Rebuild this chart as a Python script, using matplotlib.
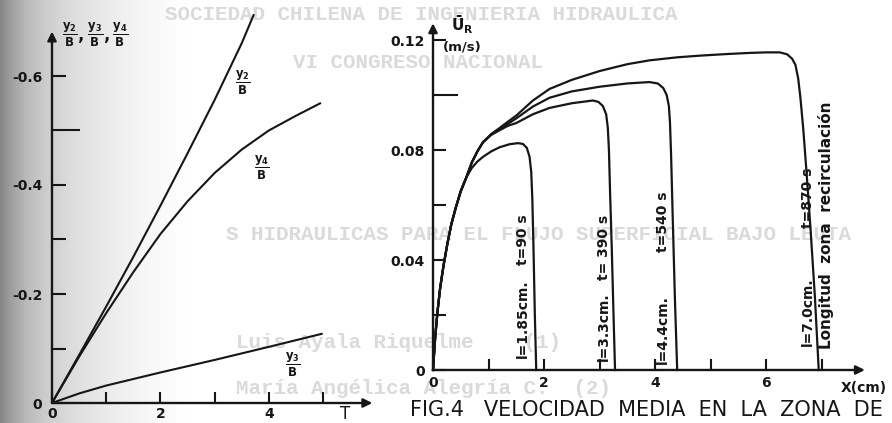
import numpy as np
import matplotlib
matplotlib.use("Agg")
import matplotlib.pyplot as plt

plt.rcParams['font.family'] = ['DejaVu Sans']
plt.rcParams['mathtext.fontset'] = 'dejavusans'
plt.rcParams['mathtext.default'] = 'bf'

W, H = 892, 423
INK = '#161616'

# ---- left panel: y/B against T ----
t_y2 = [0, 0.5, 1.0, 1.5, 2.0, 2.5, 3.0, 3.25, 3.5, 3.72]
v_y2 = [0, 0.088, 0.177, 0.268, 0.362, 0.458, 0.556, 0.608, 0.66, 0.712]
t_y4 = [0, 0.5, 1.0, 1.5, 2.0, 2.5, 3.0, 3.5, 4.0, 4.5, 4.95]
v_y4 = [0, 0.085, 0.165, 0.24, 0.31, 0.37, 0.422, 0.465, 0.5, 0.527, 0.55]
t_y3 = [0, 0.5, 1.0, 1.5, 2.0, 3.0, 4.0, 4.98]
v_y3 = [0, 0.0175, 0.032, 0.044, 0.056, 0.079, 0.103, 0.127]

# ---- right panel: mean velocity U_R (m/s) against X (cm) ----
x_rise = [0, 0.04, 0.08, 0.13, 0.19, 0.26, 0.33, 0.41, 0.5, 0.6]
u_rise = [0, 0.012, 0.021, 0.03, 0.038, 0.046, 0.053, 0.059, 0.065, 0.070]
x_c1 = [0.7, 0.8, 0.9, 1.05, 1.2, 1.38, 1.53, 1.62, 1.69, 1.74, 1.77, 1.79, 1.81, 1.835, 1.86]
u_c1 = [0.0735, 0.0758, 0.0775, 0.0795, 0.081, 0.0821, 0.0825, 0.0822, 0.0808, 0.0775, 0.072,
        0.062, 0.045, 0.02, 0]
x_c2 = [0.7, 0.8, 0.9, 1.05, 1.2, 1.35, 1.5, 1.8, 2.1, 2.5, 2.88, 2.98, 3.06, 3.12, 3.15, 3.17,
        3.19, 3.22, 3.25, 3.28]
u_c2 = [0.0755, 0.0795, 0.0828, 0.0855, 0.0872, 0.0888, 0.0898, 0.093, 0.0953, 0.097, 0.098,
        0.0975, 0.096, 0.093, 0.088, 0.08, 0.065, 0.045, 0.022, 0]
x_c3 = [0.7, 0.8, 0.9, 1.05, 1.2, 1.35, 1.5, 1.8, 2.1, 2.5, 3.0, 3.5, 3.9, 4.05, 4.15, 4.21, 4.25,
        4.27, 4.29, 4.32, 4.36, 4.4]
u_c3 = [0.0755, 0.0795, 0.0828, 0.0857, 0.0877, 0.0895, 0.0915, 0.0958, 0.099, 0.1013, 0.103,
        0.1042, 0.1047, 0.1042, 0.1025, 0.1, 0.096, 0.09, 0.078, 0.055, 0.025, 0]
x_c4 = [0.7, 0.8, 0.9, 1.05, 1.2, 1.35, 1.5, 1.8, 2.1, 2.5, 3.0, 3.5, 3.9, 4.4, 4.8, 5.3, 5.7,
        6.0, 6.25, 6.38, 6.47, 6.53, 6.58, 6.62, 6.67, 6.73, 6.8, 6.88, 6.95]
u_c4 = [0.0755, 0.0795, 0.0828, 0.0858, 0.088, 0.0903, 0.0925, 0.098, 0.1022, 0.1055, 0.1087,
        0.1112, 0.1126, 0.1137, 0.1143, 0.1149, 0.1153, 0.1155, 0.1155, 0.1148, 0.1132, 0.111,
        0.106, 0.099, 0.088, 0.072, 0.052, 0.027, 0]

# labels for each curve
len_labels = ['l=1.85cm.', 'l=3.3cm.', 'l=4.4cm.', 'l=7.0cm.']
time_labels = ['t=90 s', 't= 390 s', 't=540 s', 't=870 s']
label_x = [1.62, 3.08, 4.14, 6.76]
len_label_y = [0.0185, 0.0156, 0.0147, 0.0211]
time_label_y = [0.0473, 0.0447, 0.054, 0.0625]


def fx(px):
    return px / W


def fy(py):
    return 1 - py / H


fig = plt.figure(figsize=(W / 100, H / 100), dpi=100)

# scanned page: grey shading at the left margin
bg = fig.add_axes([0, 0, 1, 1], zorder=-10)
cols = np.arange(W)
shade = np.interp(cols, [0, 8, 25, 45, 70, 100, 140, 190], [0.52, 0.6, 0.72, 0.8, 0.86, 0.91, 0.96, 1.0])
bg.imshow(np.tile(shade, (2, 1)), cmap='gray', vmin=0, vmax=1, aspect='auto', extent=[0, 1, 0, 1])
bg.set_axis_off()

# faint bleed-through typewriter text
ghost = dict(color='#dadada', fontsize=15, family='Liberation Mono', fontweight='bold', zorder=-5, va='center')
fig.text(fx(165), fy(14), 'SOCIEDAD CHILENA DE INGENIERIA HIDRAULICA', **ghost)
fig.text(fx(293), fy(62), 'VI CONGRESO NACIONAL', **ghost)
fig.text(fx(851), fy(234), 'S HIDRAULICAS PARA EL FLUJO SUPERFICIAL BAJO LEUTA', ha='right', **ghost)
fig.text(fx(236), fy(342), 'Luis Ayala Riquelme    (1)', **ghost)
fig.text(fx(236), fy(388), 'María Angélica Alegría C.  (2)', **ghost)


def base_axes(ax, xmax, ymax):
    ax.set_facecolor('none')
    for s in ax.spines.values():
        s.set_visible(False)
    ax.set_xlim(0, xmax)
    ax.set_ylim(0, ymax)
    arrow = dict(arrowstyle='-|>', lw=1.7, color=INK, mutation_scale=13, shrinkA=0, shrinkB=0)
    ax.annotate('', xy=(xmax * 0.985, 0), xytext=(0, 0), arrowprops=arrow, annotation_clip=False)
    ax.annotate('', xy=(0, ymax * 0.985), xytext=(0, 0), arrowprops=arrow, annotation_clip=False)
    ax.tick_params(which='both', direction='in', color=INK, width=1.5, labelcolor=INK,
                   labelsize=10)
    for lab in ax.get_xticklabels() + ax.get_yticklabels():
        lab.set_fontweight('bold')


# ---- left axes ----
sx, sy = 54.2, 545.0
lx0, ly0 = 52, 403
xmax_l, ymax_l = 6.0, 0.692
ax1 = fig.add_axes([fx(lx0), fy(ly0), xmax_l * sx / W, ymax_l * sy / H])
ax1.set_xticks([0, 1, 2, 3, 4, 5])
ax1.set_xticklabels(['0', '', '2', '', '4', ''])
ax1.set_yticks([0, 0.1, 0.2, 0.3, 0.4, 0.6])
ax1.set_yticklabels(['0', '', '-0.2', '', '-0.4', '-0.6'])
ax1.set_yticks([0.5], minor=True)
base_axes(ax1, xmax_l, ymax_l)
ax1.tick_params(axis='y', which='major', length=10, pad=7)
ax1.tick_params(axis='y', which='minor', length=20)
ax1.tick_params(axis='x', length=8, pad=3)

for t, v in [(t_y2, v_y2), (t_y4, v_y4), (t_y3, v_y3)]:
    ax1.plot(t, v, color=INK, lw=1.5, clip_on=False, solid_capstyle='round',
             solid_joinstyle='round')

ax1.text(3.52, 0.587, r'$\frac{y_2}{B}$', fontsize=12, ha='center', va='center', color=INK)
ax1.text(3.87, 0.431, r'$\frac{y_4}{B}$', fontsize=12, ha='center', va='center', color=INK)
ax1.text(4.45, 0.07, r'$\frac{y_3}{B}$', fontsize=12, ha='center', va='center', color=INK)
ax1.text(5.4, -0.004, 'T', fontsize=12, ha='center', va='top', color=INK)
fig.text(fx(62), fy(35), r'$\frac{y_2}{B},\frac{y_3}{B},\frac{y_4}{B}$', fontsize=12,
         ha='left', va='center', color=INK)

# ---- right axes ----
rx, ry = 55.5, 2750.0
rx0, ry0 = 433, 370
xmax_r, ymax_r = 7.9, 0.128
ax2 = fig.add_axes([fx(rx0), fy(ry0), xmax_r * rx / W, ymax_r * ry / H])
ax2.set_xticks(range(8))
ax2.set_xticklabels(['0', '', '2', '', '4', '', '6', ''])
ax2.set_yticks([0, 0.02, 0.04, 0.06, 0.08, 0.12])
ax2.set_yticklabels(['0', '', '0.04', '', '0.08', '0.12'])
ax2.set_yticks([0.10], minor=True)
base_axes(ax2, xmax_r, ymax_r)
ax2.tick_params(axis='y', which='major', length=9, pad=6)
ax2.tick_params(axis='y', which='minor', length=18)
ax2.tick_params(axis='x', length=8, pad=4)

for xs, us in [(x_c1, u_c1), (x_c2, u_c2), (x_c3, u_c3), (x_c4, u_c4)]:
    ax2.plot(x_rise + xs, u_rise + us, color=INK, lw=1.6, clip_on=False,
             solid_joinstyle='round')

for xl, ll, tl, yl, yt in zip(label_x, len_labels, time_labels, len_label_y, time_label_y):
    ax2.text(xl, yl, ll, rotation=90, ha='center', va='center', fontsize=10,
             fontweight='bold', color=INK)
    ax2.text(xl, yt, tl, rotation=90, ha='center', va='center', fontsize=10,
             fontweight='bold', color=INK)
ax2.text(7.08, 0.0525, 'Longitud  zona  recirculación', rotation=90, ha='center', va='center',
         fontsize=11, fontweight='bold', color=INK)

ax2.text(0.52, 0.1255, r'$\bar{U}_R$', fontsize=11, ha='center', va='center', color=INK)
ax2.text(0.52, 0.1175, '(m/s)', fontsize=9.5, ha='center', va='center', color=INK, fontweight='bold')
ax2.text(7.77, -0.004, 'X(cm)', fontsize=10, ha='center', va='top', color=INK, fontweight='bold')

fig.text(fx(410), fy(410), 'FIG.4   VELOCIDAD  MEDIA  EN  LA  ZONA  DE', fontsize=15,
         ha='left', va='center', color=INK)

fig.savefig('out.png', dpi=100)
